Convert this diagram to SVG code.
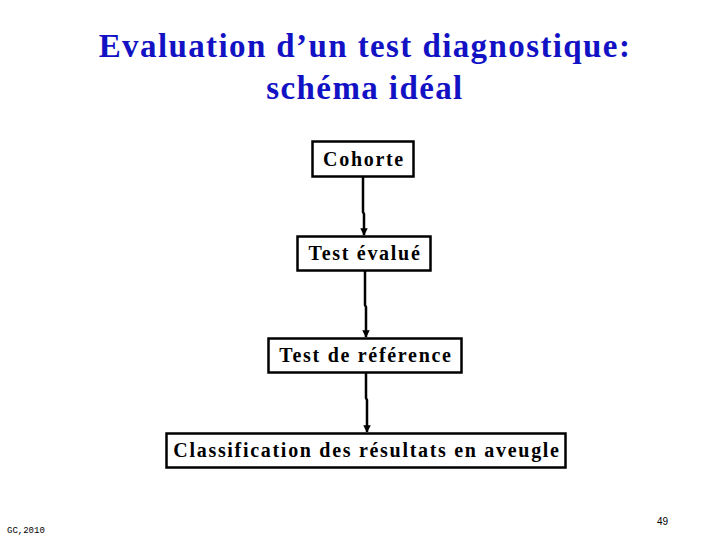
<svg xmlns="http://www.w3.org/2000/svg" width="720" height="540" viewBox="0 0 720 540">
<defs>
<style>
.box{fill:#fff;stroke:#000;stroke-width:2.5}
.lbl{font-family:"Liberation Serif","Times New Roman",serif;font-size:20px;font-weight:bold;letter-spacing:1.7px;fill:#000;text-anchor:middle}
.title{font-family:"Liberation Serif","Times New Roman",serif;font-size:33px;font-weight:bold;letter-spacing:1.4px;fill:#1212c4;text-anchor:middle}
.conn{stroke:#000;stroke-width:2.5;fill:none;marker-end:url(#ah)}
</style>
<marker id="ah" viewBox="0 0 10 10" refX="9" refY="5" markerWidth="3" markerHeight="3" orient="auto" markerUnits="strokeWidth">
<path d="M0,0 L10,5 L0,10 z" fill="#000"/>
</marker>
</defs>
<rect width="720" height="540" fill="#fff"/>
<text class="title" x="365" y="57">Evaluation d’un test diagnostique:</text>
<text class="title" x="365" y="99">schéma idéal</text>
<g id="connectors">
<path class="conn" d="M363,176 L363,212 L364,214 L364,235"/>
<path class="conn" d="M365,271 L365,305 L366,307 L366,337"/>
<path class="conn" d="M366,373 L366,398 L367,400 L367,432"/>
</g>
<g id="n1"><rect class="box" x="312.5" y="141.5" width="101" height="35"/><text class="lbl" x="364" y="166">Cohorte</text></g>
<g id="n2"><rect class="box" x="297.5" y="236.5" width="133" height="34"/><text class="lbl" x="365" y="260">Test évalué</text></g>
<g id="n3"><rect class="box" x="268.5" y="338.5" width="193" height="34"/><text class="lbl" x="366" y="362">Test de référence</text></g>
<g id="n4"><rect class="box" x="166.5" y="433.5" width="399" height="34"/><text class="lbl" x="367" y="457">Classification des résultats en aveugle</text></g>
<text x="7" y="533" font-family="'Liberation Mono',monospace" font-size="9" fill="#000">GC,2010</text>
<text x="657" y="525" font-family="'Liberation Sans',Arial,sans-serif" font-size="10" fill="#000">49</text>
</svg>
